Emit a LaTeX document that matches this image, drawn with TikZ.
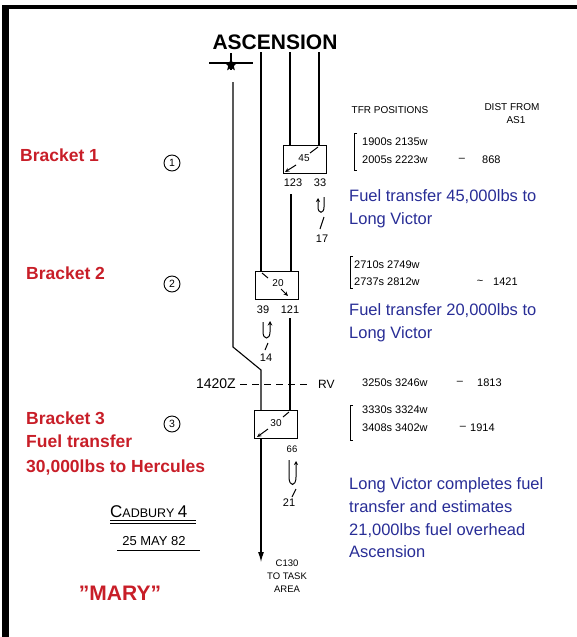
\documentclass[tikz,border=0pt]{standalone}
\usepackage{fontspec}
\setmainfont{Liberation Sans}
\usetikzlibrary{shapes.geometric,arrows.meta}
\definecolor{redlab}{RGB}{200,30,40}
\definecolor{bluelab}{RGB}{40,45,150}
\begin{document}
\begin{tikzpicture}[x=1pt,y=-1pt,
  redtxt/.style={text=redlab,font=\fontsize{17.5}{20}\selectfont\bfseries,anchor=base west,inner sep=0pt},
  bluetxt/.style={text=bluelab,font=\fontsize{16.5}{22.7}\selectfont,anchor=north west,align=left,inner sep=0pt},
  hand/.style={font=\fontsize{11}{13}\selectfont,inner sep=0pt},
  track/.style={line width=1.1pt},
  boxn/.style={draw,line width=1pt,minimum width=43pt,minimum height=28pt,inner sep=0pt,anchor=north west},
  circnum/.style={circle,draw,line width=0.9pt,minimum size=16pt,inner sep=0pt,font=\fontsize{10.5}{12}\selectfont},
  glyph/.style={line width=1pt},
  brk/.style={line width=1pt}]
\useasboundingbox (0,0) rectangle (577,637);
% border
\fill[black] (2,5) rectangle (577,9);
\fill[black] (2,5) rectangle (9,637);

% title
\node[font=\fontsize{21}{24}\selectfont\bfseries,inner sep=0pt] (asc) at (275,42) {ASCENSION};

% plane symbol
\draw[line width=2pt] (209,63) -- (253,63);
\draw[line width=1.4pt] (231,53) -- (231,70);
\node[star,star points=5,star point ratio=2.2,fill=black,minimum size=13pt,inner sep=0pt] (plane) at (231,65) {};

% boxes
\node[boxn] (b1) at (283,145) {};
\node[boxn] (b2) at (255,271) {};
\node[boxn] (b3) at (254,410) {};
\node[hand,font=\fontsize{10}{11}\selectfont] (n45) at (304,158) {45};
\node[hand,font=\fontsize{10}{11}\selectfont] (n20) at (278,283) {20};
\node[hand,font=\fontsize{10}{11}\selectfont] (n30) at (276,423) {30};
% arrows inside boxes
\draw[glyph] (318,147) -- (310,153);
\draw[glyph,-{Stealth[length=4.5pt,width=4pt]}] (296,165) -- (285,172);
\draw[glyph] (262,273) -- (268,278);
\draw[glyph,-{Stealth[length=4.5pt,width=4pt]}] (281,289) -- (288,296);
\draw[glyph] (289,412) -- (283,417);
\draw[glyph,-{Stealth[length=4.5pt,width=4pt]}] (268,429) -- (257,437);

% tracks
\coordinate (p1a) at (233,82);
\coordinate (p1b) at (233,347);
\coordinate (p1c) at (261,370);
\coordinate (p2a) at (261,52);
\coordinate (p3a) at (290,52);
\coordinate (p3b) at (291,194);
\coordinate (p3c) at (290,318);
\coordinate (p4a) at (319,52);
\coordinate (aend) at (261,562);
\draw[track] (p1a) -- (p1b) -- (p1c) -- (p1c |- b3.north);
\draw[track] (p2a) -- (p2a |- b2.north);
\draw[track] (p3a) -- (p3a |- b1.north);
\draw[track] (p4a) -- (p4a |- b1.north);
\draw[track] (p3b) -- (p3b |- b2.north);
\draw[track] (p3c) -- (p3c |- b3.north);
\draw[track,-{Latex[length=10pt,width=6pt]}] (p1c |- b3.south) -- (aend);

% dashed RV line
\coordinate (dl) at (240,384);
\coordinate (dr) at (308,384);
\draw[line width=1pt,dash pattern=on 7pt off 5pt] (dl) -- (dr);
\node[hand,font=\fontsize{14}{16}\selectfont,anchor=east] (t1420) at (236,384) {1420Z};
\node[hand,font=\fontsize{12}{14}\selectfont,anchor=west] (rv) at (318,384) {RV};

% labels under boxes
\node[hand] (l123) at (293,183) {123};
\node[hand] (l33) at (320,183) {33};
\node[hand] (l39) at (263,310) {39};
\node[hand] (l121) at (290,310) {121};
\node[hand,font=\fontsize{9.5}{11}\selectfont] (l66) at (292,449) {66};
\node[hand] (l17) at (322,239) {17};
\node[hand] (l14) at (266,358) {14};
\node[hand] (l21) at (289,503) {21};

% orbit hooks
\draw[glyph,-{Stealth[length=4pt,width=4pt]}] (324,197) -- (324,207) .. controls (324,214) and (318,214) .. (318,207) -- (318,198);
\draw[glyph] (320,229) -- (324,217);
\draw[glyph,-{Stealth[length=4.5pt,width=4.5pt]}] (263,322) -- (263,332) .. controls (263,340) and (270,340) .. (270,332) -- (270,321);
\draw[glyph] (265,350) -- (268,343);
\draw[glyph,-{Stealth[length=4pt,width=4pt]}] (289,460) -- (289,477) .. controls (289,487) and (296,487) .. (296,477) -- (296,461);
\draw[glyph] (292,497) -- (296,489);

% circled numbers
\node[circnum] (c1) at (172,163) {1};
\node[circnum] (c2) at (172,284) {2};
\node[circnum] (c3) at (172,424) {3};

% red labels
\node[redtxt] (br1) at (20,161) {Bracket 1};
\node[redtxt] (br2) at (26,279) {Bracket 2};
\node[redtxt] (br3) at (26,424) {Bracket 3};
\node[redtxt] (br3b) at (26,447) {Fuel transfer};
\node[redtxt] (br3c) at (26,472) {30,000lbs to Hercules};
\node[text=redlab,font=\fontsize{21}{24}\selectfont\bfseries,inner sep=0pt] (mary) at (120,593) {\char34 MARY\char34};

% blue notes
\node[bluetxt] (blue1) at (349,189.5) {Fuel transfer 45,000lbs to\\Long Victor};
\node[bluetxt] (blue2) at (349,303.5) {Fuel transfer 20,000lbs to\\Long Victor};
\node[bluetxt] (blue3) at (349,477.5) {Long Victor completes fuel\\transfer and estimates\\21,000lbs fuel overhead\\Ascension};

% table headings
\node[hand,font=\fontsize{10}{11}\selectfont] (hpos) at (390,110) {TFR POSITIONS};
\node[hand,font=\fontsize{10}{11}\selectfont] (hdist) at (512,107) {DIST FROM};
\node[hand,font=\fontsize{10}{11}\selectfont] (has) at (516,120) {AS1};

% positions
\draw[brk] (357,133) -- (354,133) -- (354,170) -- (357,170);
\node[hand,anchor=west] (r1a) at (362,142) {1900s 2135w};
\node[hand,anchor=west] (r1b) at (362,160) {2005s 2223w};
\node[hand] (r1d) at (462,160) {--};
\node[hand,anchor=west] (r1c) at (482,160) {868};

\draw[brk] (353,256) -- (350,256) -- (350,288) -- (353,288);
\node[hand,anchor=west] (r2a) at (354,265) {2710s 2749w};
\node[hand,anchor=west] (r2b) at (354,282) {2737s 2812w};
\node[hand] (r2d) at (480,282) {\textasciitilde};
\node[hand,anchor=west] (r2c) at (493,282) {1421};

\node[hand,anchor=west] (rva) at (362,383) {3250s 3246w};
\node[hand] (rvd) at (460,383) {--};
\node[hand,anchor=west] (rvc) at (477,383) {1813};

\draw[brk] (353,405) -- (350,405) -- (350,440) -- (353,440);
\node[hand,anchor=west] (r3a) at (362,410) {3330s 3324w};
\node[hand,anchor=west] (r3b) at (362,428) {3408s 3402w};
\node[hand] (r3d) at (463,428) {--};
\node[hand,anchor=west] (r3c) at (470,428) {1914};

% Cadbury 4
\node[inner sep=0pt,anchor=west] (cad) at (110,512) {\fontsize{17}{19}\selectfont C\fontsize{12.5}{15}\selectfont ADBURY \fontsize{17}{19}\selectfont 4};
\draw[line width=0.9pt] (110,520) -- (196,520);
\draw[line width=0.9pt] (110,523) -- (196,523);
\node[inner sep=0pt,font=\fontsize{13}{15}\selectfont] (date) at (154,541) {25 MAY 82};
\draw[line width=0.9pt] (117,550) -- (200,550);

% destination
\node[hand,font=\fontsize{9.5}{13}\selectfont,align=center] (dest) at (287,576) {C130\\TO TASK\\AREA};
\end{tikzpicture}
\end{document}
